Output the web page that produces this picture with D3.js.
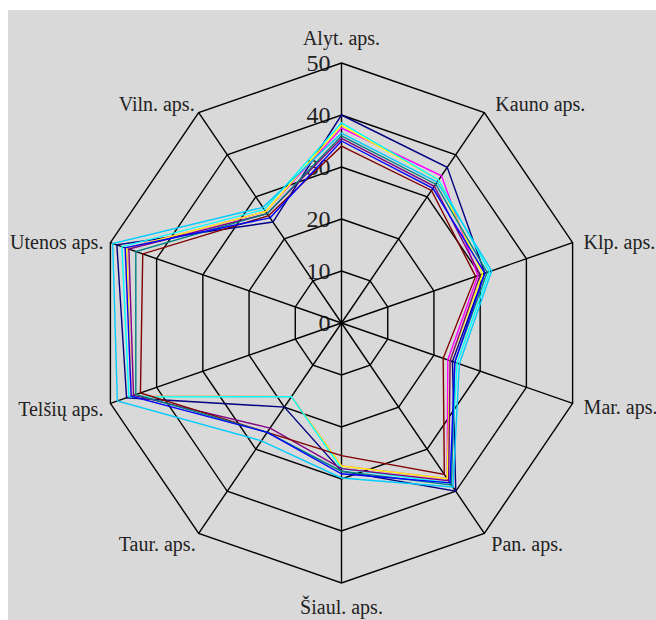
<!DOCTYPE html>
<html><head><meta charset="utf-8">
<script src="https://cdn.jsdelivr.net/npm/d3@7"></script>
<style>html,body{margin:0;padding:0;background:#fff;}svg{display:block;}</style>
</head><body>
<script>
const categories = ["Alyt. aps.","Kauno aps.","Klp. aps.","Mar. aps.","Pan. aps.","Šiaul. aps.","Taur. aps.","Telšių aps.","Utenos aps.","Viln. aps."];
const tickValues = [0,10,20,30,40,50];
const seriesColors = ["#000080","#FF00FF","#FFFF00","#00FFFF","#800080","#800000","#008080","#0000FF","#00CCFF"];
const s1 = [40,37,31,24,40,28.5,20,46.5,48.6,24];
const s2 = [37.5,35,29.5,23,37,27.5,17.5,45.5,46.5,26.5];
const s3 = [38,34,30.5,23.5,37,27.5,17.5,45.5,46.5,26.5];
const s4 = [38.5,34,32,25,38,28,17.5,46,47.5,27];
const s5 = [35.5,32.5,30,23.5,37.5,28,25,45,46,26];
const s6 = [34,31.5,29,22,36,25.5,26,43.5,43,25.5];
const s7 = [36,33,31.5,24.5,38.5,28.5,26,44.5,44.5,26];
const s8 = [35,32,31,24.5,38,29,26,45.5,46.8,25];
const s9 = [36.5,33.5,32.5,25.5,39,29.8,28,48.5,49.5,27.5];
const seriesValues = [s1,s2,s3,s4,s5,s6,s7,s8,s9];

const W = 656, H = 620, cx = 341.5, cy = 323;
const svg = d3.select("body").append("svg").attr("width", W).attr("height", H);
svg.append("rect").attr("x", 8).attr("y", 10).attr("width", W - 8).attr("height", H - 10).attr("fill", "#d9d9d9");

const rx = d3.scaleLinear().domain([0, 50]).range([0, 243]);
const ry = d3.scaleLinear().domain([0, 50]).range([0, 260]);
const ang = d3.scalePoint().domain(d3.range(categories.length)).range([0, 2 * Math.PI * (categories.length - 1) / categories.length]);
const pt = (i, v) => [cx + rx(v) * Math.sin(ang(i)), cy - ry(v) * Math.cos(ang(i))];

const g = svg.append("g");
// tick labels
tickValues.forEach(v => {
  g.append("text").attr("x", cx - 11).attr("y", cy - ry(v) + 8)
    .attr("text-anchor", "end").attr("font-family", "Liberation Serif")
    .attr("font-size", 24).attr("fill", "#222").text(v);
});
// rings
tickValues.filter(v => v > 0).forEach(v => {
  g.append("path")
    .attr("d", d3.line()(categories.map((c, i) => pt(i, v))) + "Z")
    .attr("fill", "none").attr("stroke", "#000").attr("stroke-width", 1.4);
});
// spokes
categories.forEach((c, i) => {
  const p = pt(i, 50);
  g.append("line").attr("x1", cx).attr("y1", cy).attr("x2", p[0]).attr("y2", p[1])
    .attr("stroke", "#000").attr("stroke-width", 1.4);
});
// series
seriesValues.forEach((vals, k) => {
  g.append("path")
    .attr("d", d3.line()(vals.map((v, i) => pt(i, v))) + "Z")
    .attr("fill", "none").attr("stroke", seriesColors[k]).attr("stroke-width", 1.4);
});
// category labels
const labelPos = [
  {anchor:"middle", dx:0, dy:-18},
  {anchor:"start", dx:11, dy:-2},
  {anchor:"start", dx:11, dy:6},
  {anchor:"start", dx:11, dy:11},
  {anchor:"start", dx:7, dy:18},
  {anchor:"middle", dx:0, dy:31},
  {anchor:"end", dx:-3, dy:18},
  {anchor:"end", dx:-7, dy:13},
  {anchor:"end", dx:-7, dy:6},
  {anchor:"end", dx:-4, dy:-2}
];
categories.forEach((c, i) => {
  const p = pt(i, 50);
  const lp = labelPos[i];
  g.append("text").attr("x", p[0] + lp.dx).attr("y", p[1] + lp.dy)
    .attr("text-anchor", lp.anchor).attr("font-family", "Liberation Serif")
    .attr("font-size", 20).attr("fill", "#222").text(c);
});
</script>
</body></html>
